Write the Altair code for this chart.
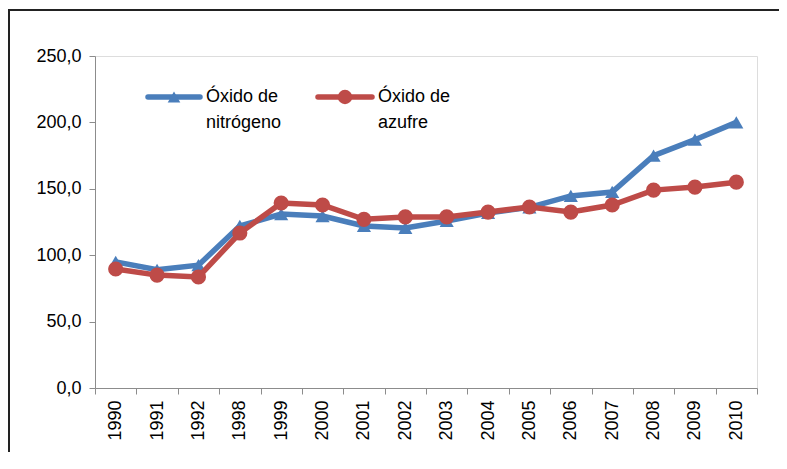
import altair as alt
import pandas as pd

years = ["1990", "1991", "1992", "1998", "1999", "2000", "2001", "2002",
         "2003", "2004", "2005", "2006", "2007", "2008", "2009", "2010"]
nitrogeno = [95.0, 89.0, 92.5, 122.0, 131.0, 129.5, 122.0, 120.5,
             125.8, 131.8, 136.0, 144.6, 147.6, 175.0, 187.0, 200.0]
azufre = [89.6, 85.0, 83.6, 116.7, 139.3, 137.8, 127.0, 128.8,
          128.8, 132.5, 136.3, 132.5, 137.8, 149.0, 151.3, 155.0]
series_names = ["Óxido de nitrógeno", "Óxido de azufre"]
colors = ["#4A7EBB", "#BE4B48"]
y_ticks = [0, 50, 100, 150, 200, 250]

df_n = pd.DataFrame({"year": years, "value": nitrogeno})
df_a = pd.DataFrame({"year": years, "value": azufre})

FONT = "Liberation Sans"
W, H = 662, 332

xenc = alt.X("year:O", sort=years, title=None,
             scale=alt.Scale(type="band", paddingInner=0, paddingOuter=0),
             axis=alt.Axis(labelAngle=-90, labelFont=FONT, labelFontSize=18,
                           labelColor="black", domainColor="#8c8c8c",
                           tickColor="#8c8c8c", tickSize=6, tickBand="extent",
                           labelPadding=6, labelBaseline="middle", labelAlign="right"))
yenc = alt.Y("value:Q", title=None,
             scale=alt.Scale(domain=[0, 250], nice=False, zero=True),
             axis=alt.Axis(values=y_ticks, labelFont=FONT, labelFontSize=18,
                           labelColor="black", domainColor="#8c8c8c",
                           tickColor="#8c8c8c", tickSize=6, grid=False,
                           labelPadding=8,
                           labelExpr="replace(format(datum.value, '.1f'), '.', ',')"))

line_n = alt.Chart(df_n).mark_line(color=colors[0], strokeWidth=5.5).encode(x=xenc, y=yenc)
pts_n = alt.Chart(df_n).mark_point(shape="triangle-up", filled=True, opacity=1,
                                   color=colors[0], size=200).encode(x=xenc, y=yenc)
line_a = alt.Chart(df_a).mark_line(color=colors[1], strokeWidth=5.5).encode(x=xenc, y=yenc)
pts_a = alt.Chart(df_a).mark_point(shape="circle", filled=True, opacity=1,
                                   color=colors[1], size=230).encode(x=xenc, y=yenc)

# outer chart border (top and left edges)
one = pd.DataFrame({"a": [0]})
border_top = alt.Chart(one).mark_rule(color="#222222", strokeWidth=2).encode(
    x=alt.value(-86), x2=alt.value(684), y=alt.value(-46))
border_left = alt.Chart(one).mark_rect(color="#222222", clip=False).encode(
    x=alt.value(-87), x2=alt.value(-85), y=alt.value(-47), y2=alt.value(396))

# legend (drawn manually)
leg_df = pd.DataFrame({"name": series_names})
leg_y = 41
leg_items = []
for i, (x0, x1, shape, size) in enumerate([(53, 105, "triangle-up", 160), (223, 277, "circle", 210)]):
    leg_items.append(alt.Chart(leg_df.iloc[[i]]).mark_rule(color=colors[i], strokeWidth=5.5, strokeCap="round").encode(
        x=alt.value(x0), x2=alt.value(x1), y=alt.value(leg_y)))
    leg_items.append(alt.Chart(leg_df.iloc[[i]]).mark_point(shape=shape, filled=True, opacity=1,
                                                            color=colors[i], size=size).encode(
        x=alt.value((x0 + x1) / 2), y=alt.value(leg_y)))
    words = series_names[i].split(" ")
    leg_items.append(alt.Chart(leg_df.iloc[[i]]).mark_text(
        font=FONT, fontSize=18, align="left", baseline="middle", color="black", lineHeight=26
    ).encode(x=alt.value(x1 + 6), y=alt.value(leg_y),
             text=alt.value([" ".join(words[:2]), " ".join(words[2:])])))

chart = alt.layer(border_top, border_left, line_n, pts_n, line_a, pts_a, *leg_items).properties(
    width=W, height=H,
    autosize=alt.AutoSizeParams(type="none"),
    padding={"left": 87, "top": 48, "right": 22, "bottom": 64},
).configure_view(stroke=None).configure(background="white")

chart.save("out.html", embed_options={"renderer": "svg", "actions": False})
